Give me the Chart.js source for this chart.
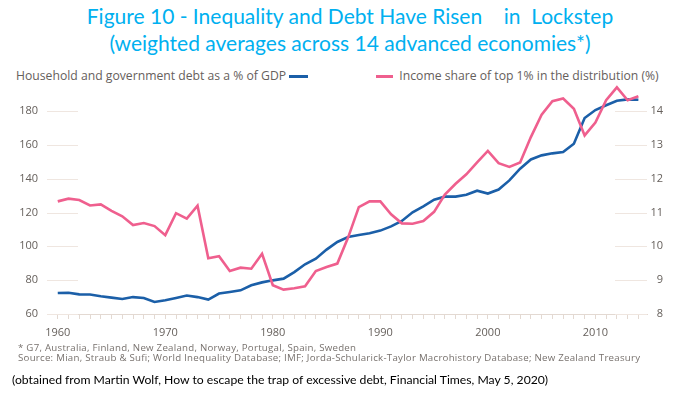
<!DOCTYPE html>
<html>
<head>
<meta charset="utf-8">
<script src="https://cdn.jsdelivr.net/npm/chart.js@4.4.1/dist/chart.umd.min.js"></script>
<style>
  body { margin: 0; width: 700px; height: 394px; background: #fff; position: relative; overflow: hidden; font-family: "Open Sans", sans-serif; }
  #title { position: absolute; top: 2px; left: 0; width: 700px; text-align: center; color: #00b0f0; font-family: Lato, sans-serif; font-size: 21px; line-height: 27px; white-space: pre; }
  .legend { position: absolute; top: 68px; font-size: 12.2px; color: #66605c; white-space: nowrap; line-height: 16px; }
  .swatch { display: inline-block; width: 19px; height: 3px; vertical-align: middle; margin-top: -1px; }
  #legDebt { left: 16px; }
  #legShare { left: 376px; }
  #chartBox { position: absolute; top: 60px; left: 0; width: 700px; height: 290px; }
  #notes { position: absolute; top: 343px; left: 18px; font-size: 9.7px; letter-spacing: 0.25px; line-height: 10px; color: #77716d; white-space: nowrap; }
  #credit { position: absolute; top: 372px; left: 12px; font-family: Lato, sans-serif; font-size: 12.2px; color: #000; white-space: nowrap; }
</style>
</head>
<body>
<div id="title">Figure 10 - Inequality and Debt Have Risen    in  Lockstep
(weighted averages across 14 advanced economies*)</div>
<div class="legend" id="legDebt">Household and government debt as a % of GDP <span class="swatch" style="background:#1b5fa8"></span></div>
<div class="legend" id="legShare"><span class="swatch" style="background:#ef5f8e;width:17px"></span>&nbsp;&nbsp;Income share of top 1% in the distribution (%)</div>
<div id="chartBox"><canvas id="lockstepChart"></canvas></div>
<div id="notes">* G7, Australia, Finland, New Zealand, Norway, Portugal, Spain, Sweden<br>Source: Mian, Straub &amp; Sufi; World Inequality Database; IMF; Jorda-Schularick-Taylor Macrohistory Database; New Zealand Treasury</div>
<div id="credit">(obtained from Martin Wolf, How to escape the trap of excessive debt, Financial Times, May 5, 2020)</div>

<script>
const years = [
  1960, 1961, 1962, 1963, 1964, 1965, 1966, 1967, 1968, 1969,
  1970, 1971, 1972, 1973, 1974, 1975, 1976, 1977, 1978, 1979,
  1980, 1981, 1982, 1983, 1984, 1985, 1986, 1987, 1988, 1989,
  1990, 1991, 1992, 1993, 1994, 1995, 1996, 1997, 1998, 1999,
  2000, 2001, 2002, 2003, 2004, 2005, 2006, 2007, 2008, 2009,
  2010, 2011, 2012, 2013, 2014
];

// household + government debt, % of GDP (left axis)
const debtToGdp = [
  72.4, 72.6, 71.6, 71.5, 70.5, 69.7, 68.9, 70.0, 69.5, 67.1,
  68.1, 69.5, 70.9, 70.0, 68.5, 72.1, 73.0, 74.0, 77.0, 78.7,
  79.9, 80.9, 84.8, 89.4, 92.7, 98.1, 102.6, 105.5, 106.7, 107.7,
  109.3, 111.8, 115.0, 120.1, 123.7, 127.6, 129.4, 129.4, 130.5, 132.9,
  131.2, 133.6, 139.0, 145.9, 151.4, 153.8, 155.0, 155.8, 160.7, 175.9,
  180.6, 183.4, 186.1, 186.9, 186.7
];

// income share of top 1%, % (right axis)
const topOneShare = [
  11.33, 11.41, 11.37, 11.21, 11.24, 11.05, 10.89, 10.63, 10.69, 10.60,
  10.33, 10.98, 10.82, 11.20, 9.65, 9.71, 9.27, 9.37, 9.34, 9.78,
  8.85, 8.72, 8.76, 8.82, 9.27, 9.39, 9.49, 10.26, 11.16, 11.33,
  11.33, 10.95, 10.68, 10.67, 10.75, 11.02, 11.53, 11.85, 12.13, 12.48,
  12.82, 12.46, 12.35, 12.48, 13.23, 13.89, 14.29, 14.37, 14.07, 13.28,
  13.66, 14.32, 14.70, 14.32, 14.44
];

const yearLabels = [1960, 1970, 1980, 1990, 2000, 2010];
const debtTicks = [60, 80, 100, 120, 140, 160, 180];
const shareTicks = [8, 9, 10, 11, 12, 13, 14];

const tickGrey = "#66605c";
const ruleColor = "#e3d9d2";

// short tick rules hugging the two sides of the plot
const shortGrid = {
  id: "shortGrid",
  beforeDatasetsDraw(chart) {
    const { ctx, chartArea, scales } = chart;
    ctx.save();
    ctx.strokeStyle = "#efe6e0";
    ctx.lineWidth = 1;
    scales.debt.ticks.forEach((t) => {
      const y = Math.round(scales.debt.getPixelForValue(t.value)) + 0.5;
      ctx.beginPath();
      ctx.moveTo(chartArea.left, y);
      ctx.lineTo(chartArea.left + 31, y);
      ctx.stroke();
    });
    scales.share.ticks.forEach((t) => {
      const y = Math.round(scales.share.getPixelForValue(t.value)) + 0.5;
      ctx.beginPath();
      ctx.moveTo(chartArea.right - 32, y);
      ctx.lineTo(chartArea.right, y);
      ctx.stroke();
    });
    ctx.restore();
  },
};

const ctx = document.getElementById("lockstepChart").getContext("2d");

new Chart(ctx, {
  type: "line",
  data: {
    datasets: [
      {
        label: "Income share of top 1% in the distribution (%)",
        data: years.map((y, i) => ({ x: y, y: topOneShare[i] })),
        yAxisID: "share",
        borderColor: "#ef5f8e",
        borderWidth: 2.6,
        pointRadius: 0,
        tension: 0,
      },
      {
        label: "Household and government debt as a % of GDP",
        data: years.map((y, i) => ({ x: y, y: debtToGdp[i] })),
        yAxisID: "debt",
        borderColor: "#1b5fa8",
        borderWidth: 2.6,
        pointRadius: 0,
        tension: 0,
      },
    ],
  },
  options: {
    responsive: true,
    maintainAspectRatio: false,
    animation: false,
    layout: { padding: { top: 24, bottom: 10, left: 0, right: 37 } },
    plugins: {
      legend: { display: false },
      tooltip: { enabled: false },
    },
    scales: {
      x: {
        type: "linear",
        min: 1959,
        max: 2014.8,
        afterFit: (scale) => { scale.height = 26; },
        afterBuildTicks: (scale) => { scale.ticks = years.map((v) => ({ value: v })); },
        ticks: {
          autoSkip: false,
          maxRotation: 0,
          padding: 7,
          color: tickGrey,
          font: { family: "Open Sans", size: 11 },
          callback: (v) => (yearLabels.includes(v) ? String(v) : ""),
        },
        grid: { drawOnChartArea: false, drawTicks: true, tickLength: 5, tickColor: ruleColor },
        border: { color: ruleColor },
      },
      debt: {
        position: "left",
        min: 60,
        max: 196,
        afterFit: (scale) => { scale.width = 47; },
        afterBuildTicks: (scale) => { scale.ticks = debtTicks.map((v) => ({ value: v })); },
        ticks: { padding: 9, color: tickGrey, font: { family: "Open Sans", size: 11 } },
        grid: { display: false, drawTicks: false },
        border: { display: false },
      },
      share: {
        position: "right",
        min: 8,
        max: 14.8,
        afterFit: (scale) => { scale.width = 16; },
        afterBuildTicks: (scale) => { scale.ticks = shareTicks.map((v) => ({ value: v })); },
        ticks: { padding: 4, crossAlign: "far", color: tickGrey, font: { family: "Open Sans", size: 11 } },
        grid: { display: false, drawTicks: false },
        border: { display: false },
      },
    },
  },
  plugins: [shortGrid],
});
</script>
</body>
</html>
